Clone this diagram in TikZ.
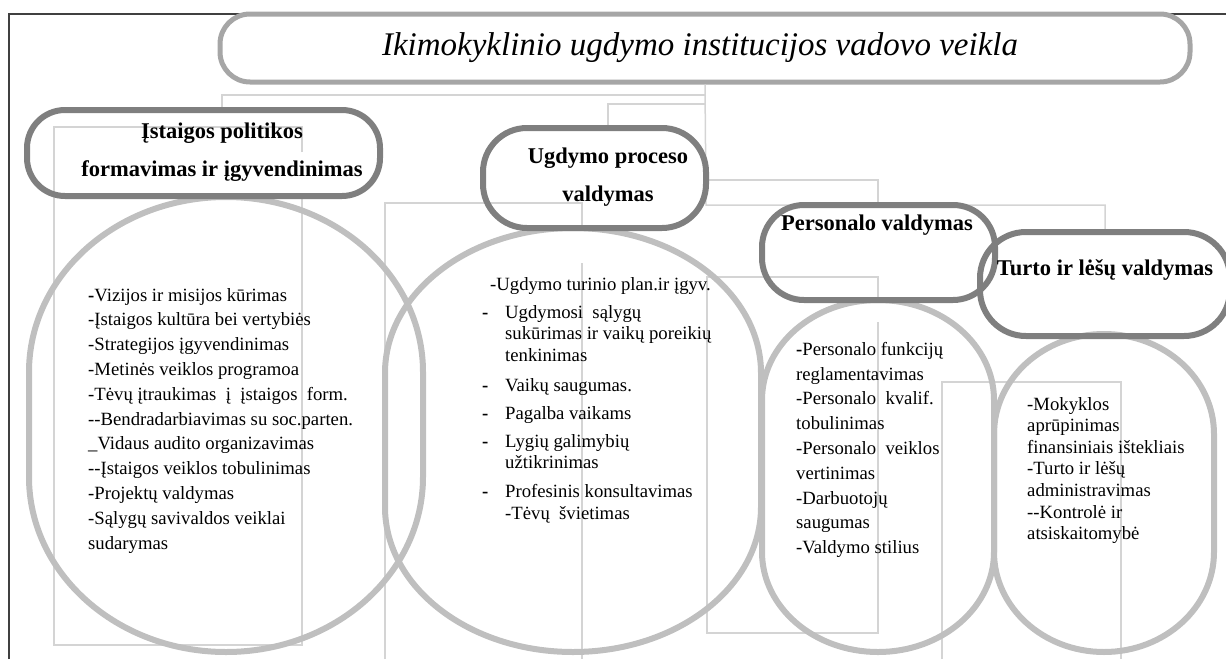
\documentclass[tikz,border=0pt]{standalone}
\usepackage{fontspec}
\setmainfont{Liberation Serif}
\definecolor{framec}{HTML}{404040}
\definecolor{connc}{HTML}{D4D4D4}
\definecolor{ovalc}{HTML}{BFBFBF}
\definecolor{hdrc}{HTML}{7F7F7F}
\definecolor{titlec}{HTML}{A6A6A6}
\newcommand{\ovalshape}[5]{%
  \draw[oval] ({#1+#3},{#2+#4-#5}) -- ({#1+#3},{#2-#4+#5})
    arc[start angle=0,end angle=-180,x radius=#3,y radius=#5]
    -- ({#1-#3},{#2+#4-#5})
    arc[start angle=180,end angle=0,x radius=#3,y radius=#5] -- cycle;}
\begin{document}
\begin{tikzpicture}[x=1pt,y=-1pt,
  conn/.style={draw=connc,line width=1.5pt},
  oval/.style={draw=ovalc,line width=6pt},
  hdrbox/.style={draw=hdrc,line width=6pt,rectangle,inner sep=0pt},
  hdrtext/.style={font=\fontsize{22.5}{38}\selectfont\bfseries,align=center,inner sep=1pt},
  body/.style={font=\fontsize{18.7}{24.8}\selectfont,align=left,anchor=north west,inner sep=0pt},
  bodyb/.style={font=\fontsize{18.7}{21.5}\selectfont,align=left,anchor=north west,inner sep=0pt},
  bodyc/.style={font=\fontsize{18.7}{21.6}\selectfont,align=left,anchor=north west,inner sep=0pt},
]
\useasboundingbox (0,0) rectangle (1226,659);
% frame
\draw[framec,line width=1.5pt] (9,659) -- (9,14) -- (1226,14);

% title
\node[draw=titlec,line width=5pt,fill=white,rectangle,rounded corners=30pt,
      minimum width=970pt,minimum height=68pt,inner sep=0pt] (title) at (705,48) {};
\node[font=\fontsize{33}{38}\selectfont\itshape] (titletext) at (700,48) {Ikimokyklinio ugdymo institucijos vadovo veikla};

% connectors from title
\coordinate (hub) at (706,205);
\draw[conn] (title.south) -- (hub) -| (1105,232);
\draw[conn] (706,180) -| (878,205);
\draw[conn] (706,104) -| (608,128);
\draw[conn] (706,95) -| (222,110);

% hanging connectors
\draw[conn] (302,152) -- (302,127) -- (54,127) -- (54,645) -- (302,645) -- (302,198);
\draw[conn] (385,659) -- (385,203) -- (582,203) -- (582,228);
\draw[conn] (582,263) -- (582,659);
\draw[conn] (878,322) -- (878,633) -- (707,633) -- (707,277) -- (878,277) -- (878,298);
\draw[conn] (942,659) -- (942,382) -- (1121,382) -- (1121,659);

% ovals
\ovalshape{226}{424.5}{197}{227.5}{175}
\ovalshape{573}{440}{188}{212}{145}
\ovalshape{878}{476}{116}{176}{100}
\ovalshape{1104}{493}{110}{159}{100}

% header boxes
\node[hdrbox,minimum width=353pt,minimum height=86pt,rounded corners=38pt] (b1) at (203.5,153) {};
\node[hdrbox,minimum width=223pt,minimum height=100pt,rounded corners=44pt] (b2) at (594.5,178) {};
\node[hdrbox,minimum width=233pt,minimum height=95pt,rounded corners=42pt] (b3) at (878.5,252.5) {};
\node[hdrbox,minimum width=250pt,minimum height=104pt,rounded corners=46pt] (b4) at (1105,284) {};

\node[hdrtext] (t1) at (222,152) {Įstaigos politikos\\formavimas ir įgyvendinimas};
\node[hdrtext] (t2) at (608,177) {Ugdymo proceso\\valdymas};
\node[hdrtext] (t3) at (877,225) {Personalo valdymas};
\node[hdrtext] (t4) at (1105,270) {Turto ir lėšų valdymas};

% body texts
\node[body] (l1) at (88,288) {{\bfseries -}Vizijos ir misijos kūrimas\\
-Įstaigos kultūra bei vertybiės\\
-Strategijos įgyvendinimas\\
-Metinės veiklos programoa\\
-Tėvų įtraukimas\ \ į\ \ įstaigos\ \ form.\\
-{}-Bendradarbiavimas su soc.parten.\\
\_Vidaus audito organizavimas\\
-{}-Įstaigos veiklos tobulinimas\\
-Projektų valdymas\\
-Sąlygų savivaldos veiklai\\
sudarymas};

\node[bodyb] (l2) at (482,277) {\hspace*{8pt}-Ugdymo turinio plan.ir įgyv.\\[6.5pt]
\makebox[23pt][l]{\bfseries -}Ugdymosi\ \ sąlygų\\
\hspace*{23pt}sukūrimas ir vaikų poreikių\\
\hspace*{23pt}tenkinimas\\[8.5pt]
\makebox[23pt][l]{\bfseries -}Vaikų saugumas.\\[6.5pt]
\makebox[23pt][l]{\bfseries -}Pagalba\ vaikams\\[6.5pt]
\makebox[23pt][l]{\bfseries -}Lygių galimybių\\
\hspace*{23pt}užtikrinimas\\[7.5pt]
\makebox[23pt][l]{\bfseries -}Profesinis konsultavimas\\
\hspace*{23pt}-Tėvų\ \ švietimas};

\node[body] (l3) at (796,342) {{\bfseries -}Personalo funkcijų\\
reglamentavimas\\
-Personalo\ \ kvalif.\\
tobulinimas\\
-Personalo\ \ veiklos\\
vertinimas\\
-Darbuotojų\\
saugumas\\
-Valdymo stilius};

\begin{scope}
\clip (940,380) rectangle (1183,600);
\node[bodyc] (l4) at (1027,397) {-Mokyklos\\
aprūpinimas\\
finansiniais ištekliais\\
-Turto ir lėšų\\
administravimas\\
-{}-Kontrolė ir\\
atsiskaitomybė};
\end{scope}
\end{tikzpicture}
\end{document}
